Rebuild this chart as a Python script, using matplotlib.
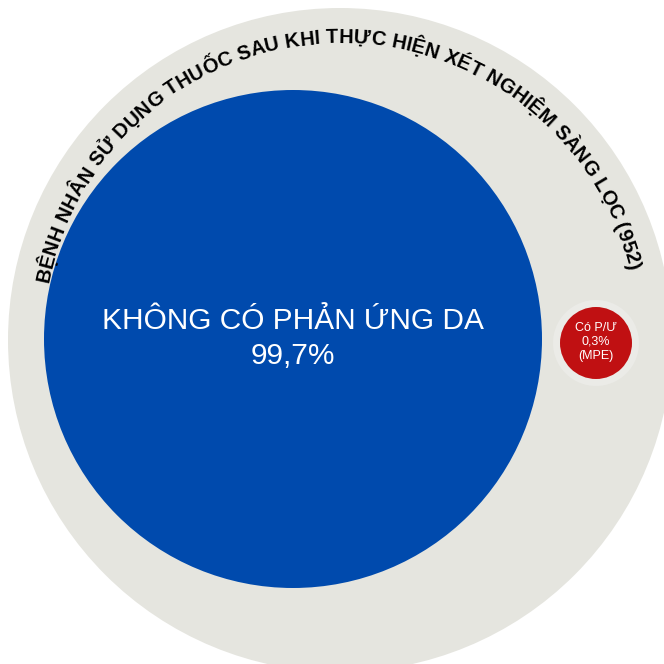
import numpy as np
import matplotlib
matplotlib.use('Agg')
import matplotlib.pyplot as plt
from matplotlib.patches import Circle
from matplotlib.textpath import TextToPath
from matplotlib.font_manager import FontProperties

# survey numbers
groups = ['KHÔNG CÓ PHẢN ỨNG DA', 'Có P/Ư']
shares = [99.7, 0.3]
notes = ['', '(MPE)']
total_patients = 952
title = 'BỆNH NHÂN SỬ DỤNG THUỐC SAU KHI THỰC HIỆN XÉT NGHIỆM SÀNG LỌC'

FONTS = ['Liberation Sans', 'DejaVu Sans']
GREY = '#e5e5df'
BLUE = '#004aad'
RED = '#c01012'

W = 664
fig = plt.figure(figsize=(6.64, 6.64), dpi=100)
ax = fig.add_axes([0, 0, 1, 1])
ax.set_xlim(0, W)
ax.set_ylim(0, W)
ax.set_aspect('equal')
ax.axis('off')

# circles: (x, y, radius) in pixels, y going up
outer = (340, 324, 332)
big = (293, 325, 249)
small = (596, 321, 36)

ax.add_patch(Circle(outer[:2], outer[2], color=GREY, lw=0))
ax.add_patch(Circle(big[:2], big[2], color=BLUE, lw=0))
ax.add_patch(Circle(small[:2], small[2] + 7, color='#ebebe7', lw=0))
ax.add_patch(Circle(small[:2], small[2], color=RED, lw=0))


def pct(v):
    return f'{v:.1f}%'.replace('.', ',')


ax.text(big[0], big[1] + 18, groups[0], color='white', fontsize=21.5,
        family=FONTS, ha='center', va='center')
ax.text(big[0], big[1] - 17, pct(shares[0]), color='white', fontsize=21.5,
        family=FONTS, ha='center', va='center')

ax.text(small[0], small[1] + 1, f'{groups[1]}\n{pct(shares[1])}\n{notes[1]}',
        color='white', fontsize=9, family=FONTS, ha='center', va='center',
        linespacing=1.2)

# title bent along the grey ring
label = f'{title} ({total_patients})'
r_base = 297
a0, a1 = np.radians(169), np.radians(13.5)
size = 14.5
ttp = TextToPath()
fp = FontProperties(family=FONTS, weight='bold', size=size)
w0 = ttp.get_text_width_height_descent('HH', fp, ismath=False)[0]
adv = []
for c in label:
    w1 = ttp.get_text_width_height_descent('H' + c + 'H', fp, ismath=False)[0]
    adv.append((w1 - w0) * 100 / 72)
adv = np.array(adv)
adv *= r_base * (a0 - a1) / adv.sum()
mid = np.cumsum(adv) - adv / 2
for c, s in zip(label, mid):
    th = a0 - s / r_base
    x = outer[0] + r_base * np.cos(th)
    y = outer[1] + r_base * np.sin(th)
    ax.text(x, y, c, rotation=np.degrees(th) - 90, rotation_mode='anchor',
            ha='center', va='baseline', fontsize=size, fontweight='bold',
            family=FONTS, color='black')

fig.savefig('out.png', dpi=100, facecolor='white')
